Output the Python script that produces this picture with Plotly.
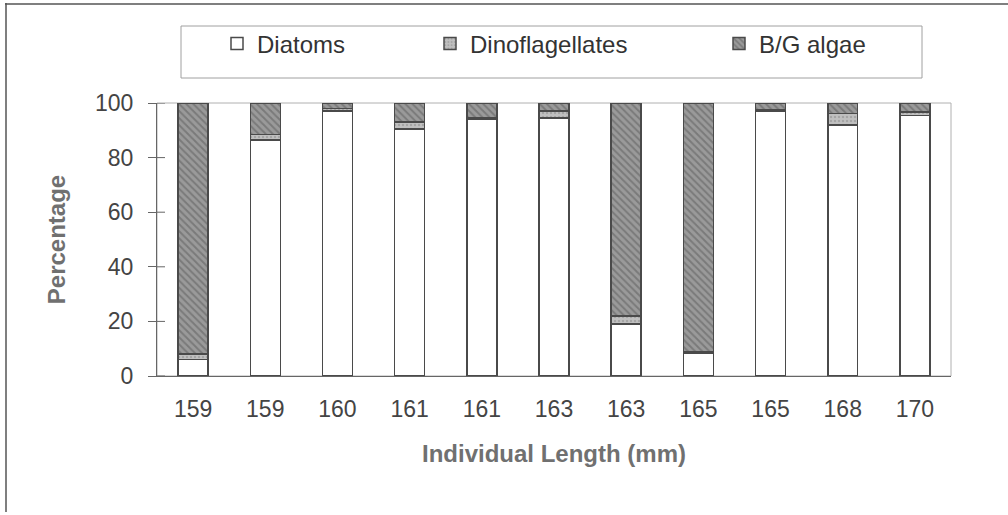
import plotly.graph_objects as go

categories = ["159", "159", "160", "161", "161", "163", "163", "165", "165", "168", "170"]
diatoms = [6, 86.5, 97, 90.5, 94, 94.5, 19, 8.5, 97, 92, 95.5]
dinoflagellates = [2, 2, 1, 2.5, 0.5, 2.5, 3, 0.3, 0.5, 4.2, 1.2]
bg_algae = [round(100 - d - f, 1) for d, f in zip(diatoms, dinoflagellates)]
y_ticks = [0, 20, 40, 60, 80, 100]

x_idx = list(range(len(categories)))
FONT = "Liberation Sans, Arial, sans-serif"
OUTLINE = "#4a4a4a"

fig = go.Figure()
fig.add_trace(go.Bar(
    x=x_idx, y=diatoms, name="Diatoms", legend="legend",
    marker=dict(color="white", line=dict(color=OUTLINE, width=1.5)),
))
fig.add_trace(go.Bar(
    x=x_idx, y=dinoflagellates, name="Dinoflagellates", legend="legend2",
    marker=dict(color="#b4b4b4", line=dict(color=OUTLINE, width=1.5),
                pattern=dict(shape=".", fgcolor="#8a8a8a", bgcolor="#c0c0c0", size=4, solidity=0.3)),
))
fig.add_trace(go.Bar(
    x=x_idx, y=bg_algae, name="B/G algae", legend="legend3",
    marker=dict(color="#7c7c7c", line=dict(color=OUTLINE, width=1.5),
                pattern=dict(shape="\\", fgcolor="#5a5a5a", bgcolor="#9a9a9a", size=5, solidity=0.4)),
))

# plot-area geometry (px) used to place decorations in paper coords
L, R, T, B = 157, 57, 103, 139
W, H = 1008 - L - R, 515 - T - B
def px(xp): return (xp - L) / W
def py(yp): return (515 - B - yp) / H

shapes = [
    # light plot-area frame
    dict(type="rect", xref="paper", yref="paper", x0=0, x1=1, y0=0, y1=1,
         line=dict(color="#b0b0b0", width=1), layer="below"),
    # outer frame (top and left)
    dict(type="line", xref="paper", yref="paper", x0=px(5), x1=px(1010), y0=py(4), y1=py(4),
         line=dict(color="#555", width=1.5)),
    dict(type="line", xref="paper", yref="paper", x0=px(6), x1=px(6), y0=py(3), y1=py(512),
         line=dict(color="#555", width=1.5)),
    # legend box
    dict(type="rect", xref="paper", yref="paper", x0=px(181), x1=px(922), y0=py(78), y1=py(26),
         line=dict(color="#a0a0a0", width=1)),
]
# inner half of the crossing y ticks
for t in y_ticks:
    shapes.append(dict(type="line", xref="paper", yref="y", x0=0, x1=px(L + 8), y0=t, y1=t,
                       line=dict(color="#666", width=1)))

legend_common = dict(orientation="h", yanchor="middle", xanchor="left", borderwidth=0,
                     bgcolor="rgba(0,0,0,0)", font=dict(family=FONT, size=24, color="#333"))

fig.update_layout(
    barmode="stack",
    bargap=0.585,
    width=1008, height=515,
    margin=dict(l=L, r=R, t=T, b=B),
    paper_bgcolor="white", plot_bgcolor="white",
    font=dict(family=FONT, color="#444"),
    showlegend=True,
    legend=dict(x=px(217), y=py(44), **legend_common),
    legend2=dict(x=px(430), y=py(44), **legend_common),
    legend3=dict(x=px(719), y=py(44), **legend_common),
    shapes=shapes,
    xaxis=dict(
        tickmode="array", tickvals=x_idx, ticktext=categories,
        range=[-0.5, len(categories) - 0.5],
        showline=True, linecolor="#666", linewidth=1.2, ticks="",
        showgrid=False, zeroline=False,
        tickfont=dict(family=FONT, size=23, color="#444"),
        ticklabelstandoff=12,
        title=dict(text="<b>Individual Length (mm)</b>", standoff=24,
                   font=dict(family=FONT, size=24, color="#707070")),
    ),
    yaxis=dict(
        range=[0, 100], tickvals=y_ticks,
        showline=True, linecolor="#666", linewidth=1.2,
        ticks="outside", ticklen=8, tickcolor="#666",
        showgrid=False, zeroline=False,
        tickfont=dict(family=FONT, size=23, color="#444"),
        ticklabelstandoff=10,
        title=dict(text="<b>Percentage</b>", standoff=22,
                   font=dict(family=FONT, size=24, color="#707070")),
    ),
)

fig.write_html("out.html", config={"displayModeBar": False},
               post_script="document.body.style.margin='0px';")
